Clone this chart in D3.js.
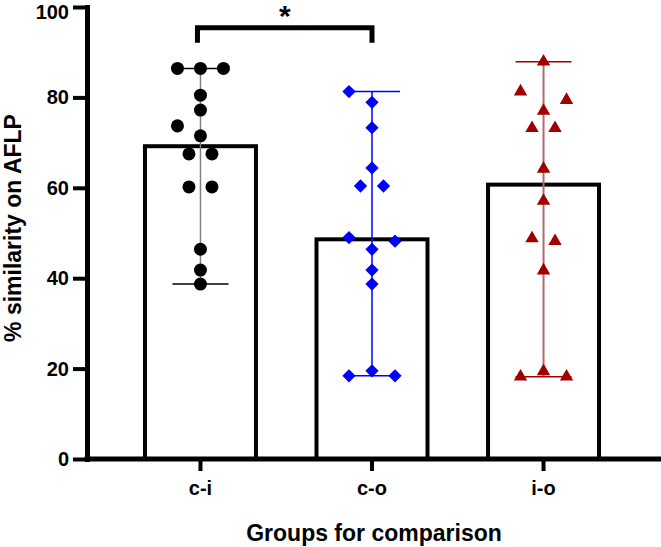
<!DOCTYPE html>
<html>
<head>
<meta charset="utf-8">
<script src="https://cdn.jsdelivr.net/npm/d3@7"></script>
<style>
  body { margin: 0; background: #fff; }
  text { font-family: "Liberation Sans", Arial, sans-serif; font-weight: bold; fill: #000; }
</style>
</head>
<body>
<script>
// values
var groups = ["c-i", "c-o", "i-o"];
var medians = [69.2, 48.6, 60.7];
var ciPoints = [86.4, 86.4, 86.4, 80.5, 77.2, 73.7, 71.5, 67.5, 67.5, 60.2, 60.2, 46.4, 41.8, 38.7];
var coPoints = [81.3, 78.9, 73.3, 64.4, 60.4, 60.4, 49.0, 48.2, 46.4, 41.8, 38.7, 19.5, 18.4, 18.4];
var ioPoints = [87.9, 81.3, 79.4, 77.0, 73.2, 73.2, 64.2, 57.1, 48.8, 48.2, 41.7, 19.4, 18.2, 18.2];
var yTicks = [0, 20, 40, 60, 80, 100];
var sigPair = ["c-i", "c-o"];
var sigLabel = "*";

var width = 661;
var height = 547;

// look of each group
var styles = [
  { pts: ciPoints, symbol: d3.symbolCircle, size: 133, rot: 0, fill: "#000", line: "#808080", lineW: 1.5, cap: "#000" },
  { pts: coPoints, symbol: d3.symbolSquare, size: 88, rot: 45, fill: "#0000ff", line: "#0000ff", lineW: 1.5, cap: "#0000ff" },
  { pts: ioPoints, symbol: d3.symbolTriangle, size: 78, rot: 0, fill: "#a00000", line: "#b46a6a", lineW: 2, cap: "#a00000" }
];

var svg = d3.select('body').append('svg')
  .attr('width', width)
  .attr('height', height);

var x = d3.scaleBand().domain(groups).range([87, 657])
  .paddingInner(0.353).paddingOuter(0.338);
var y = d3.scaleLinear().domain([0, 100]).range([459, 7]);

// spread points of about the same value side by side (like the prism scatter)
function swarm(values) {
  var pts = values.map(function(v) { return { v: v, dx: 0 }; })
    .sort(function(a, b) { return b.v - a.v; });
  var rows = [];
  pts.forEach(function(p) {
    var row = rows[rows.length - 1];
    if (row && y(p.v) - y(row[row.length - 1].v) < 11) row.push(p);
    else rows.push([p]);
  });
  rows.forEach(function(row) {
    var k = row.length;
    if (k === 1) return;
    if (row[0].v - row[k - 1].v < 1) {
      row.forEach(function(p, i) { p.dx = (i - (k - 1) / 2) * 23; });
      return;
    }
    var best = k - 1, bestD = -1;
    row.forEach(function(p, i) {
      var d = d3.sum(row, function(q) { return Math.abs(q.v - p.v); });
      if (d >= bestD) { bestD = d; best = i; }
    });
    var side = [-23, 23, -46, 46], s = 0;
    row.forEach(function(p, i) { p.dx = i === best ? 0 : side[s++]; });
  });
  return pts;
}

// bars (median)
svg.selectAll('rect.bar').data(groups)
  .enter().append('rect')
  .attr('class', 'bar')
  .attr('x', function(d) { return x(d); })
  .attr('y', function(d, i) { return y(medians[i]); })
  .attr('width', x.bandwidth())
  .attr('height', function(d, i) { return y(0) - y(medians[i]); })
  .attr('fill', '#fff')
  .attr('stroke', '#000')
  .attr('stroke-width', 4);

// range lines, caps and points
groups.forEach(function(g, i) {
  var st = styles[i];
  var cx = x(g) + x.bandwidth() / 2;
  var ext = d3.extent(st.pts);
  var grp = svg.append('g');

  grp.append('line')
    .attr('x1', cx).attr('x2', cx)
    .attr('y1', y(ext[0])).attr('y2', y(ext[1]))
    .attr('stroke', st.line).attr('stroke-width', st.lineW);

  grp.selectAll('line.cap').data(ext)
    .enter().append('line')
    .attr('class', 'cap')
    .attr('x1', cx - 28).attr('x2', cx + 28)
    .attr('y1', function(d) { return y(d); })
    .attr('y2', function(d) { return y(d); })
    .attr('stroke', st.cap).attr('stroke-width', 1.5);

  grp.selectAll('path.pt').data(swarm(st.pts))
    .enter().append('path')
    .attr('class', 'pt')
    .attr('d', d3.symbol().type(st.symbol).size(st.size))
    .attr('transform', function(d) {
      return 'translate(' + (cx + d.dx) + ',' + y(d.v) + ') rotate(' + st.rot + ')';
    })
    .attr('fill', st.fill);
});

// y axis
var gy = svg.append('g')
  .attr('transform', 'translate(87,0)')
  .call(d3.axisLeft(y).tickValues(yTicks).tickSize(14).tickSizeOuter(0).tickPadding(4));
gy.attr('font-size', 20).attr('font-family', null);
gy.select('.domain').attr('stroke-width', 5).attr('stroke-linecap', 'square');
gy.selectAll('.tick line').attr('stroke-width', 4);
// top label sits at the edge, nudge it in a little
gy.selectAll('.tick text').filter(function(d) { return d === 100; }).attr('dy', '0.55em');

// x axis
var gx = svg.append('g')
  .attr('transform', 'translate(0,' + y(0) + ')')
  .call(d3.axisBottom(x).tickSize(12).tickSizeOuter(0).tickPadding(10));
gx.attr('font-size', 20).attr('font-family', null);
gx.select('.domain').attr('d', 'M' + (x.range()[0] - 2.5) + ',0H' + width).attr('stroke-width', 5);
gx.selectAll('.tick line').attr('stroke-width', 4);

// significance bracket
var sx1 = x(sigPair[0]) + x.bandwidth() / 2 - 3;
var sx2 = x(sigPair[1]) + x.bandwidth() / 2;
svg.append('path')
  .attr('d', 'M' + sx1 + ',' + y(92.1) + 'V' + y(95.4) + 'H' + sx2 + 'V' + y(92.1))
  .attr('fill', 'none')
  .attr('stroke', '#000')
  .attr('stroke-width', 5);
svg.append('text')
  .attr('x', (sx1 + sx2) / 2)
  .attr('y', 26)
  .attr('text-anchor', 'middle')
  .attr('font-size', 30)
  .text(sigLabel);

// axis titles
svg.append('text')
  .attr('x', 374)
  .attr('y', 541)
  .attr('text-anchor', 'middle')
  .attr('font-size', 23)
  .text('Groups for comparison');

svg.append('text')
  .attr('transform', 'translate(21,228) rotate(-90)')
  .attr('text-anchor', 'middle')
  .attr('font-size', 23)
  .text('% similarity on AFLP');
</script>
</body>
</html>
